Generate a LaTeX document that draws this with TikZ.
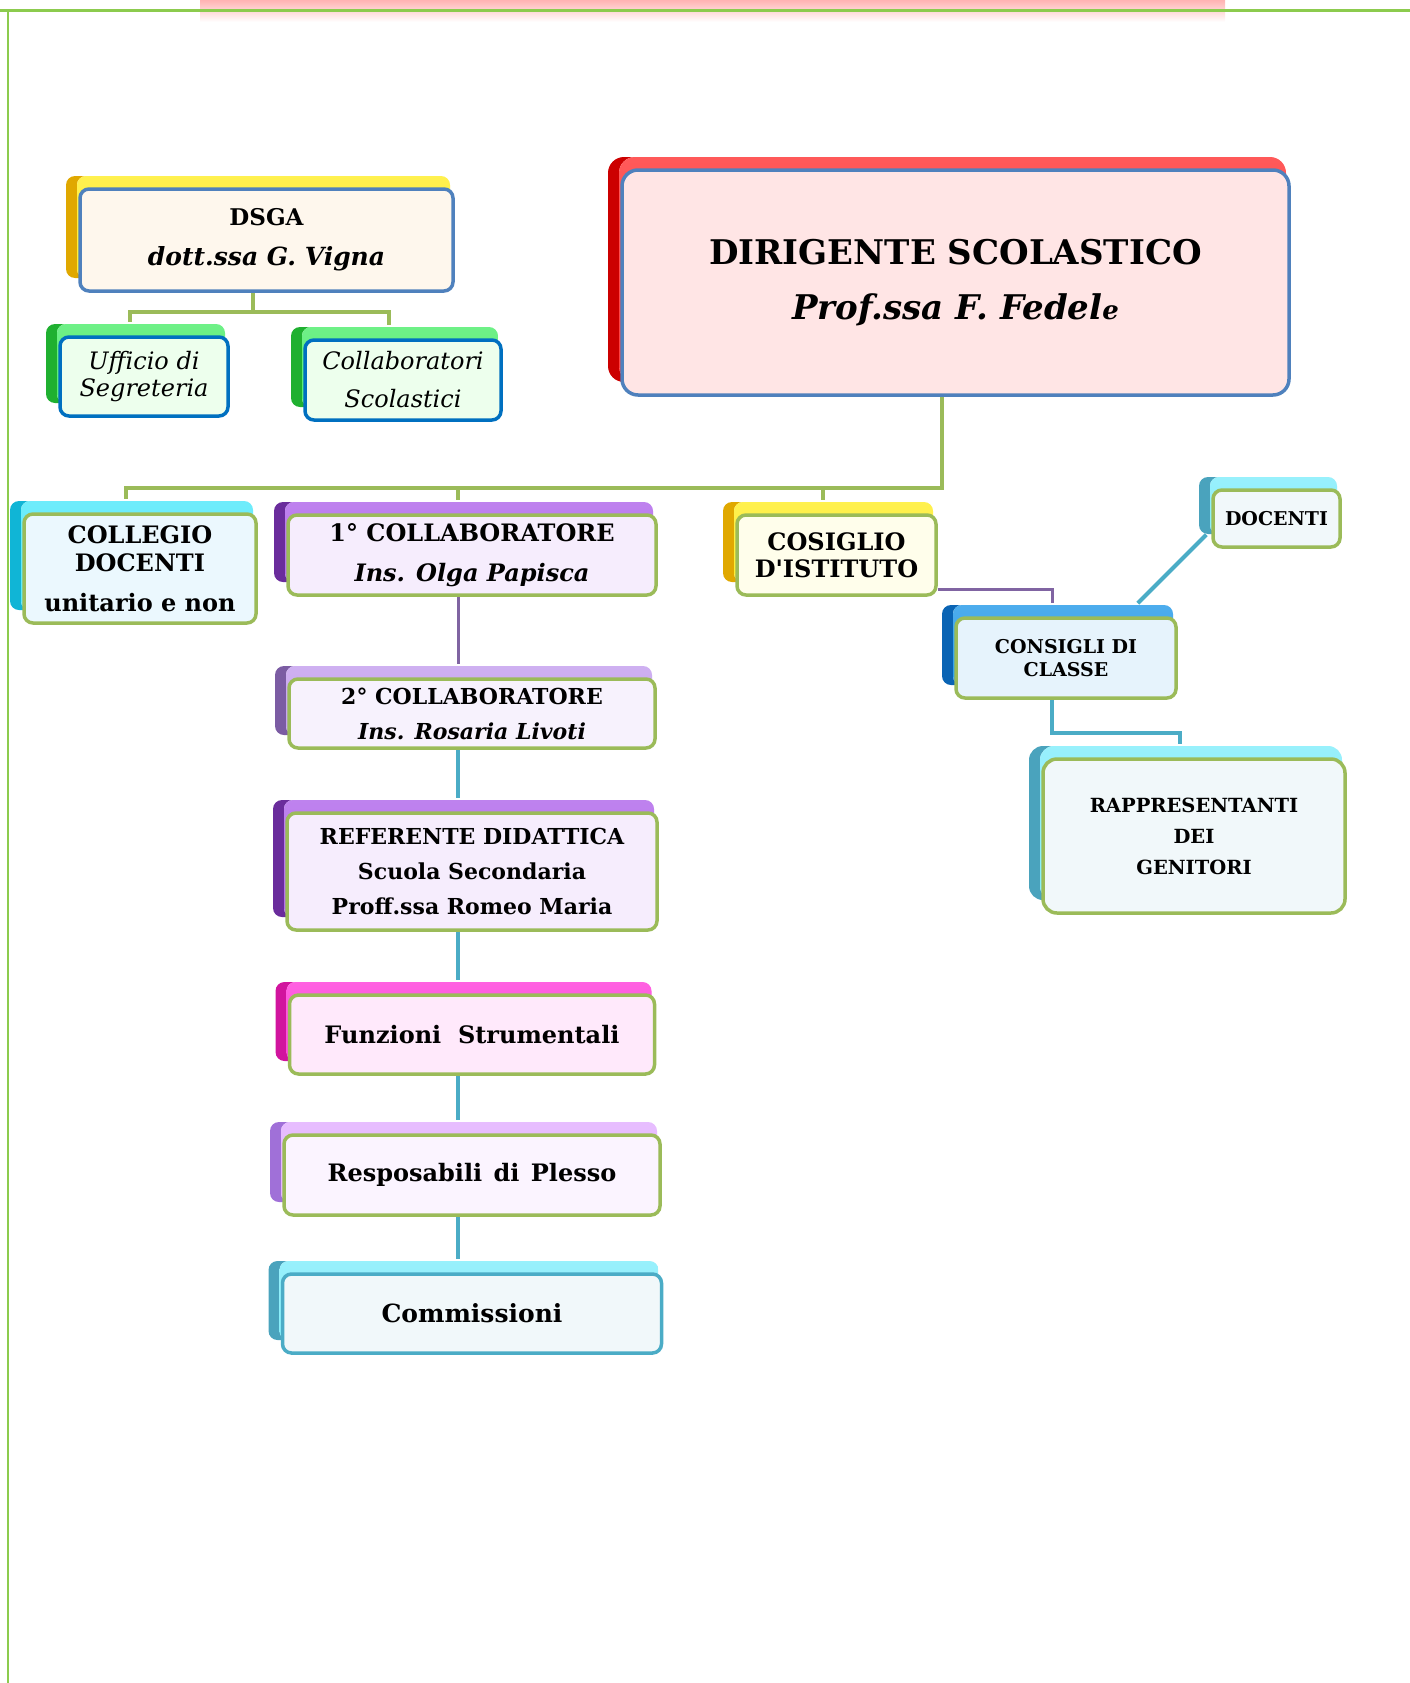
\documentclass[tikz,border=0pt]{standalone}
\usepackage{fontspec}
\setmainfont{DejaVu Serif}[Ligatures=TeXOff]
\usetikzlibrary{shadows,backgrounds}

\definecolor{bordblue}{HTML}{4F81BD}
\definecolor{deepblue}{HTML}{0070C0}
\definecolor{olivegreen}{HTML}{9BBB59}
\definecolor{aqua}{HTML}{4BACC6}
\definecolor{lilac}{HTML}{8064A2}
\definecolor{framegreen}{HTML}{8CCB4E}
\definecolor{reddark}{HTML}{CC0000}
\definecolor{redbright}{HTML}{FF3C3C}
\definecolor{golddark}{HTML}{E0A800}
\definecolor{goldbright}{HTML}{FFEE30}
\definecolor{greendark}{HTML}{1FB030}
\definecolor{greenbright}{HTML}{55EE72}
\definecolor{cyandark}{HTML}{10B5D6}
\definecolor{cyanbright}{HTML}{55E9FA}
\definecolor{purpdark}{HTML}{6A2C9C}
\definecolor{purpbright}{HTML}{B36CEB}
\definecolor{lavdark}{HTML}{7B5CA3}
\definecolor{lavbright}{HTML}{C6A2EF}
\definecolor{pinkdark}{HTML}{D1149E}
\definecolor{pinkbright}{HTML}{FF45DC}
\definecolor{lilacdark}{HTML}{A070D8}
\definecolor{lilacbright}{HTML}{E3B2FF}
\definecolor{aquadark}{HTML}{4AA3BD}
\definecolor{aquabright}{HTML}{86EEFB}
\definecolor{bluedark}{HTML}{0A64B4}
\definecolor{bluebright}{HTML}{2E9EEA}

\begin{document}
\begin{tikzpicture}[x=1pt,y=-1pt,
  box/.style={rounded corners=9pt, line width=3.5pt, inner sep=0pt, align=center},
  fs/.style 2 args={font=\bfseries\fontsize{#1}{#2}\selectfont},
  back/.style 2 args={copy shadow={shadow xshift=-14pt, shadow yshift=13pt, draw=none, fill=#1},
    copy shadow={shadow xshift=-3pt, shadow yshift=13pt, draw=none, top color=white!15!#2, bottom color=#2}},
  greenline/.style={draw=olivegreen, line width=4pt},
  purpleline/.style={draw=lilac, line width=3pt},
  cyanline/.style={draw=aqua, line width=4pt}]

  \useasboundingbox (0,0) rectangle (1410,1683);
  \fill[top color=red!30, bottom color=white] (200,0) rectangle (1225,22);
  \draw[framegreen, line width=3pt] (0,10.5) -- (1410,10.5);
  \draw[framegreen, line width=2pt] (7.5,10.5) -- (7.5,1683);

  \begin{scope}[every node/.style={box}]
    \node[draw=bordblue, fill=red!10, rounded corners=16pt, back={reddark}{redbright},
      minimum width=667pt, minimum height=225pt, fs={34}{55}] (dir) at (955.5,282.5)
      {DIRIGENTE SCOLASTICO\\ \itshape Prof.ssa F. Fedel{\fontsize{26}{26}\selectfont e}};
    \node[draw=bordblue, fill=yellow!8!orange!6, back={golddark}{goldbright},
      minimum width=373pt, minimum height=102pt, fs={23}{40}] (dsga) at (266.5,240)
      {DSGA\\ \fontsize{25}{40}\selectfont\itshape dott.ssa G. Vigna};
    \node[draw=deepblue, fill=green!7, back={greendark}{greenbright}, font=\itshape\fontsize{24}{27}\selectfont,
      minimum width=168pt, minimum height=79pt] (uff) at (144,376.5)
      {Ufficio di\\Segreteria};
    \node[draw=deepblue, fill=green!7, back={greendark}{greenbright}, font=\itshape\fontsize{24}{38}\selectfont,
      minimum width=196pt, minimum height=80pt] (scol) at (403,380)
      {Collaboratori\\Scolastici};

    \node[draw=olivegreen, fill=cyan!8, back={cyandark}{cyanbright},
      minimum width=232pt, minimum height=109pt, fs={24}{28}] (colleg) at (140,568.5)
      {COLLEGIO\\DOCENTI\\[12pt]unitario e non};
    \node[draw=olivegreen, fill=purpbright!12, back={purpdark}{purpbright},
      minimum width=368pt, minimum height=80pt, fs={24}{40}] (primo) at (472,555)
      {1° COLLABORATORE\\ \itshape Ins. Olga Papisca};
    \node[draw=olivegreen, fill=lavbright!14, back={lavdark}{lavbright},
      minimum width=366pt, minimum height=69pt, fs={22}{35}] (secondo) at (472,713.5)
      {2° COLLABORATORE\\ \itshape Ins. Rosaria Livoti};
    \node[draw=olivegreen, fill=purpbright!12, back={purpdark}{purpbright},
      minimum width=370pt, minimum height=117pt, fs={22}{35}] (ref) at (472,871.5)
      {REFERENTE DIDATTICA\\Scuola Secondaria\\Proff.ssa Romeo Maria};
    \node[draw=olivegreen, fill=pinkbright!12, back={pinkdark}{pinkbright},
      minimum width=365pt, minimum height=79pt, fs={24}{30}] (funz) at (472,1034.5)
      {Funzioni~ Strumentali};
    \node[draw=olivegreen, fill=lilacbright!14, back={lilacdark}{lilacbright},
      minimum width=376pt, minimum height=80pt, fs={24}{30}] (resp) at (472,1175)
      {Resposabili\hspace{3pt} di\hspace{3pt} Plesso};
    \node[draw=aqua, fill=aqua!8, back={aquadark}{aquabright},
      minimum width=379pt, minimum height=79pt, fs={25}{30}] (comm) at (472,1313.5)
      {Commissioni};

    \node[draw=olivegreen, fill=yellow!8, back={golddark}{goldbright},
      minimum width=199pt, minimum height=80pt, fs={24}{27}] (cdi) at (836.5,555)
      {COSIGLIO\\D'ISTITUTO};
    \node[draw=olivegreen, fill=bluebright!12, back={bluedark}{bluebright},
      minimum width=220pt, minimum height=80pt, fs={19}{23}] (cons) at (1066,658)
      {CONSIGLI DI\\CLASSE};
    \node[draw=olivegreen, fill=aqua!8, back={aquadark}{aquabright},
      minimum width=127pt, minimum height=57pt, fs={19}{23}] (doc) at (1276.5,518.5)
      {DOCENTI};
    \node[draw=olivegreen, fill=aqua!8, back={aquadark}{aquabright}, rounded corners=14pt,
      minimum width=302pt, minimum height=154pt, fs={19.5}{31}] (rapp) at (1194,836)
      {RAPPRESENTANTI\\DEI\\GENITORI};
  \end{scope}

  \begin{scope}[on background layer]
    \draw[greenline] ([xshift=-14pt]dir.south) -- ++(0,91) coordinate (bus) -| ([xshift=-14pt,yshift=13pt]colleg.north);
    \draw[greenline] (bus) -| ([xshift=-14pt,yshift=13pt]primo.north);
    \draw[greenline] (bus) -| ([xshift=-14pt,yshift=13pt]cdi.north);
    \draw[greenline] ([xshift=-14pt]dsga.south) -- ++(0,19) coordinate (sbus) -| ([xshift=-14pt,yshift=13pt]uff.north);
    \draw[greenline] (sbus) -| ([xshift=-14pt,yshift=13pt]scol.north);
    \draw[purpleline] ([xshift=-14pt]primo.south) -- ([xshift=-14pt,yshift=13pt]secondo.north);
    \draw[cyanline] ([xshift=-14pt]secondo.south) -- ([xshift=-14pt,yshift=13pt]ref.north);
    \draw[cyanline] ([xshift=-14pt]ref.south) -- ([xshift=-14pt,yshift=13pt]funz.north);
    \draw[cyanline] ([xshift=-14pt]funz.south) -- ([xshift=-14pt,yshift=13pt]resp.north);
    \draw[cyanline] ([xshift=-14pt]resp.south) -- ([xshift=-14pt,yshift=13pt]comm.north);
    \draw[purpleline] ([yshift=7pt]cdi.south east) -| ([xshift=-14pt,yshift=13pt]cons.north);
    \draw[cyanline] ([xshift=-40pt,yshift=13pt]cons.north east) -- ([xshift=-5pt,yshift=14pt]doc.south west);
    \draw[cyanline] ([xshift=-14pt]cons.south) -- ++(0,33) -| ([xshift=-14pt,yshift=13pt]rapp.north);
  \end{scope}
\end{tikzpicture}
\end{document}
